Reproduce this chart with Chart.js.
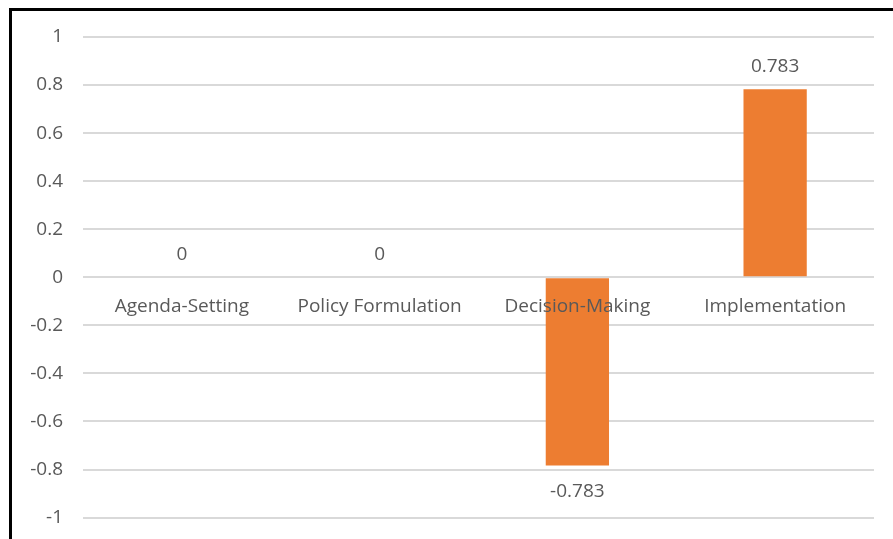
<!DOCTYPE html>
<html>
<head>
<meta charset="utf-8">
<script src="https://cdn.jsdelivr.net/npm/chart.js@4"></script>
<style>
  html, body { margin: 0; padding: 0; background: #fff; }
  #wrap { position: relative; width: 893px; height: 539px; overflow: hidden; }
  #frame { position: absolute; left: 9px; top: 8px; width: 900px; height: 600px;
           border-left: 3px solid #000; border-top: 3px solid #000; box-sizing: border-box; }
  canvas { position: absolute; left: 0; top: 0; }
</style>
</head>
<body>
<div id="wrap">
  <!-- canvas runs a little past the bottom edge so the -1 line lands near it -->
  <canvas id="myChart" width="893" height="549"></canvas>
  <div id="frame"></div>
</div>
<script>
// categories and values
const stages = ['Agenda-Setting', 'Policy Formulation', 'Decision-Making', 'Implementation'];
const scores = [0, 0, -0.783, 0.783];
const yMin = -1;
const yMax = 1;
const yStep = 0.2;

const textColor = '#595959';
const fontFamily = '"Open Sans", sans-serif';

// draws the value above positive/zero bars and below negative ones
const valueLabels = {
    id: 'valueLabels',
    afterDatasetsDraw(chart) {
        const ctx = chart.ctx;
        const meta = chart.getDatasetMeta(0);
        ctx.save();
        ctx.fillStyle = textColor;
        ctx.font = '19px ' + fontFamily;
        ctx.textAlign = 'center';
        ctx.textBaseline = 'middle';
        meta.data.forEach((bar, i) => {
            const v = chart.data.datasets[0].data[i];
            const y = v < 0 ? bar.y + 26 : bar.y - 23;
            ctx.fillText(String(v), bar.x, y);
        });
        ctx.restore();
    }
};

const ctx = document.getElementById('myChart').getContext('2d');
const myChart = new Chart(ctx, {
    type: 'bar',
    data: {
        labels: stages,
        datasets: [{
            data: scores,
            backgroundColor: '#ED7D31',
            borderWidth: 0,
            barPercentage: 0.32,
            categoryPercentage: 1
        }]
    },
    options: {
        responsive: false,
        animation: false,
        layout: { padding: { left: 12, top: 37, right: 19, bottom: 12 } },
        plugins: {
            legend: { display: false },
            tooltip: { enabled: false }
        },
        scales: {
            x: {
                position: { y: 0 },
                grid: { display: false },
                border: { display: false },
                ticks: {
                    z: 1, // category names sit on top of the bars
                    color: textColor,
                    font: { family: fontFamily, size: 19 },
                    padding: 10,
                    maxRotation: 0
                },
                afterFit(scale) { scale.height = 0; }
            },
            y: {
                min: yMin,
                max: yMax,
                grid: { color: '#d9d9d9', lineWidth: 2, drawTicks: false },
                border: { display: false },
                ticks: {
                    stepSize: yStep,
                    color: textColor,
                    font: { family: fontFamily, size: 19 },
                    padding: 20,
                    callback: v => String(Math.round(v * 10) / 10)
                },
                afterFit(scale) { scale.width = 71; }
            }
        }
    },
    plugins: [valueLabels]
});
</script>
</body>
</html>
